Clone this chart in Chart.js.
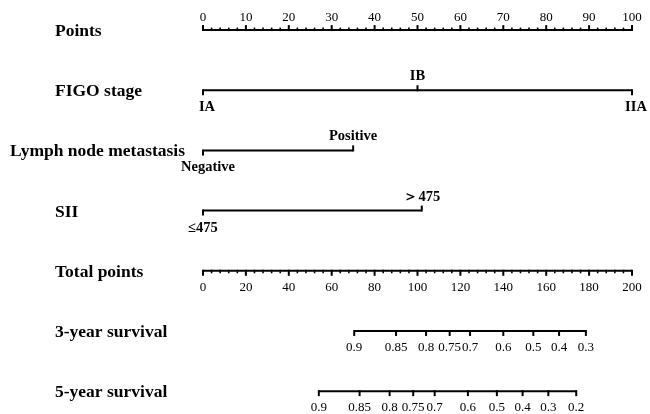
<!DOCTYPE html>
<html>
<head>
<meta charset="utf-8">
<script src="https://cdn.jsdelivr.net/npm/chart.js@4/dist/chart.umd.min.js"></script>
<style>
html,body{margin:0;padding:0;background:#fff;}
#wrap{width:650px;height:414px;}
</style>
</head>
<body>
<div id="wrap"><canvas id="c" width="650" height="414"></canvas></div>
<script>
// ---- data ----
const rowNames = ['Points', 'FIGO stage', 'Lymph node metastasis', 'SII', 'Total points', '3-year survival', '5-year survival'];

const pointsTicks = [0, 10, 20, 30, 40, 50, 60, 70, 80, 90, 100];
const figoLabels = ['IA', 'IB', 'IIA'];
const figoPoints = [0, 50, 100];
const figoSide = ['below', 'above', 'below'];
const lymphLabels = ['Negative', 'Positive'];
const lymphPoints = [0, 35];
const lymphSide = ['below', 'above'];
const siiLabels = ['\u2264475', '\uFF1E475'];
const siiPoints = [0, 51];
const siiSide = ['below', 'above'];
const totalTicks = [0, 20, 40, 60, 80, 100, 120, 140, 160, 180, 200];
const surv3Labels = ['0.9', '0.85', '0.8', '0.75', '0.7', '0.6', '0.5', '0.4', '0.3'];
const surv3Total = [70.5, 90, 104, 115, 124.5, 140, 154, 166, 178.5];
const surv5Labels = ['0.9', '0.85', '0.8', '0.75', '0.7', '0.6', '0.5', '0.4', '0.3', '0.2'];
const surv5Total = [54, 73, 87, 98, 108, 123.5, 137, 149, 161, 174];

// ---- chart ----
const seg = (a, b, row, axis) => ({
  data: [{x: a, y: row}, {x: b, y: row}],
  xAxisID: axis, borderColor: '#000', borderWidth: 2, pointRadius: 0,
  showLine: true, borderCapStyle: 'butt', fill: false
});

const datasets = [
  seg(pointsTicks[0], pointsTicks[pointsTicks.length - 1], 0, 'x'),
  seg(figoPoints[0], figoPoints[figoPoints.length - 1], 1, 'x'),
  seg(lymphPoints[0], lymphPoints[lymphPoints.length - 1], 2, 'x'),
  seg(siiPoints[0], siiPoints[siiPoints.length - 1], 3, 'x'),
  seg(totalTicks[0], totalTicks[totalTicks.length - 1], 4, 'x2'),
  seg(surv3Total[0], surv3Total[surv3Total.length - 1], 5, 'x2'),
  seg(surv5Total[0], surv5Total[surv5Total.length - 1], 6, 'x2')
];

const TICK_FONT = '13px "Liberation Serif"';
const LAB_FONT = 'bold 14.5px "Liberation Serif"';
const ROW_FONT = 'bold 17.5px "Liberation Serif"';

const nomoPlugin = {
  id: 'nomo',
  afterDatasetsDraw(chart) {
    const ctx = chart.ctx;
    const xs = chart.scales.x, x2 = chart.scales.x2, ys = chart.scales.y;
    ctx.save();
    ctx.strokeStyle = '#000';
    ctx.fillStyle = '#000';
    const tick = (px, py, len, w) => {
      ctx.lineWidth = w;
      ctx.beginPath();
      ctx.moveTo(px, py);
      ctx.lineTo(px, py + len);
      ctx.stroke();
    };
    const text = (t, px, py, font, align) => {
      ctx.font = font;
      ctx.textAlign = align || 'center';
      ctx.textBaseline = 'alphabetic';
      ctx.fillText(t, px, py);
    };

    // row titles
    rowNames.forEach((n, i) => {
      const py = ys.getPixelForValue(i) + 6;
      text(n, i === 2 ? 10 : 55, py, ROW_FONT, 'left');
    });

    // Points axis (ticks up, labels above)
    let py = ys.getPixelForValue(0);
    for (let v = pointsTicks[0]; v <= pointsTicks[pointsTicks.length - 1]; v += 2) {
      const major = pointsTicks.includes(v);
      tick(xs.getPixelForValue(v), py + 1, major ? -6 : -3.5, major ? 2 : 1.6);
    }
    pointsTicks.forEach(v => text(String(v), xs.getPixelForValue(v), py - 9, TICK_FONT));

    // categorical rows
    const cat = (labels, pts, side, row, shift) => {
      const yy = ys.getPixelForValue(row);
      labels.forEach((l, i) => {
        const px = xs.getPixelForValue(pts[i]);
        if (side[i] === 'above') {
          tick(px, yy + 1, -6, 2);
          text(l, px, yy - 10, LAB_FONT);
        } else {
          tick(px, yy - 1, 6, 2);
          text(l, px + shift, yy + 21, LAB_FONT);
        }
      });
    };
    cat(figoLabels, figoPoints, figoSide, 1, 4);
    cat(lymphLabels, lymphPoints, lymphSide, 2, 5);
    cat(siiLabels, siiPoints, siiSide, 3, 0);

    // Total points (ticks down, labels below)
    py = ys.getPixelForValue(4);
    for (let v = totalTicks[0]; v <= totalTicks[totalTicks.length - 1]; v += 4) {
      const major = totalTicks.includes(v);
      tick(x2.getPixelForValue(v), py - 1, major ? 6 : 3.5, major ? 2 : 1.6);
    }
    totalTicks.forEach(v => text(String(v), x2.getPixelForValue(v), py + 20, TICK_FONT));

    // survival rows
    const surv = (labels, pts, row) => {
      const yy = ys.getPixelForValue(row);
      pts.forEach((v, i) => {
        const px = x2.getPixelForValue(v);
        tick(px, yy - 1, 6, 2);
        text(labels[i], px, yy + 20, TICK_FONT);
      });
    };
    surv(surv3Labels, surv3Total, 5);
    surv(surv5Labels, surv5Total, 6);
    ctx.restore();
  }
};

new Chart(document.getElementById('c'), {
  type: 'scatter',
  data: { datasets },
  options: {
    responsive: false,
    animation: false,
    layout: { padding: { left: 203, right: 18, top: 0, bottom: 0 } },
    plugins: { legend: { display: false }, tooltip: { enabled: false } },
    scales: {
      x: { type: 'linear', min: 0, max: 100, display: false },
      x2: { type: 'linear', min: 0, max: 200, display: false },
      y: { type: 'linear', min: -0.5, max: 6.38, reverse: true, display: false }
    }
  },
  plugins: [nomoPlugin]
});
</script>
</body>
</html>
